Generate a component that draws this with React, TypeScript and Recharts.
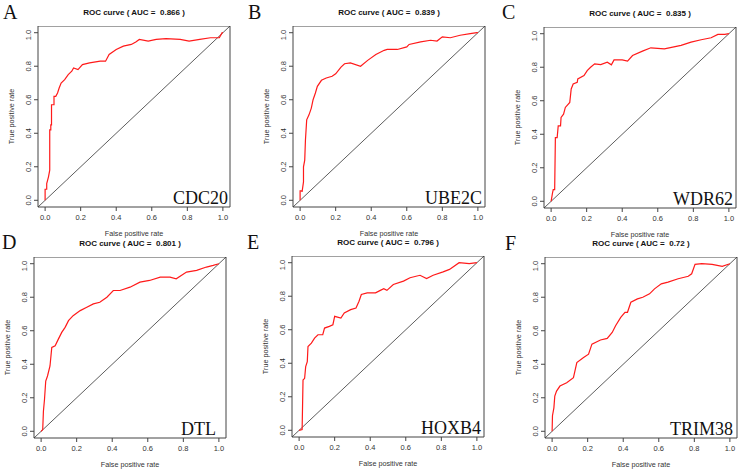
import { LineChart, Line, XAxis, YAxis, ReferenceLine, ReferenceArea } from 'recharts';

// ROC panels A-F

const panelLetters = ['A', 'B', 'C', 'D', 'E', 'F'];
const geneNames = ['CDC20', 'UBE2C', 'WDR62', 'DTL', 'HOXB4', 'TRIM38'];
const aucValues = ['0.866', '0.839', '0.835', '0.801', '0.796', '0.72'];
const tickValues = [0, 0.2, 0.4, 0.6, 0.8, 1];

const cdc20Fpr = [0, 0, 0.009, 0.009, 0.019, 0.026, 0.026, 0.032, 0.032, 0.036, 0.036, 0.05, 0.05, 0.06, 0.07, 0.079, 0.09, 0.11, 0.13, 0.15, 0.16, 0.185, 0.21, 0.25, 0.31, 0.34, 0.36, 0.4, 0.44, 0.485, 0.51, 0.53, 0.58, 0.625, 0.68, 0.76, 0.81, 0.87, 0.93, 0.98, 0.996, 1];
const cdc20Tpr = [0, 0.066, 0.066, 0.1, 0.14, 0.18, 0.42, 0.42, 0.45, 0.45, 0.57, 0.57, 0.62, 0.62, 0.64, 0.67, 0.7, 0.72, 0.75, 0.77, 0.79, 0.78, 0.81, 0.82, 0.83, 0.83, 0.87, 0.9, 0.92, 0.93, 0.945, 0.96, 0.95, 0.96, 0.965, 0.96, 0.95, 0.96, 0.97, 0.97, 1, 1];

const ube2cFpr = [0, 0, 0.011, 0.011, 0.019, 0.019, 0.026, 0.03, 0.037, 0.05, 0.063, 0.073, 0.086, 0.097, 0.12, 0.147, 0.18, 0.2, 0.23, 0.25, 0.283, 0.34, 0.38, 0.426, 0.473, 0.49, 0.547, 0.6, 0.613, 0.678, 0.734, 0.77, 0.8, 0.845, 0.9, 0.957, 0.994, 1];
const ube2cTpr = [0, 0.056, 0.056, 0.05, 0.11, 0.2, 0.24, 0.36, 0.48, 0.51, 0.55, 0.6, 0.64, 0.68, 0.716, 0.73, 0.74, 0.755, 0.795, 0.815, 0.82, 0.8, 0.835, 0.87, 0.895, 0.9, 0.9, 0.915, 0.93, 0.945, 0.955, 0.95, 0.975, 0.97, 0.985, 0.994, 1, 1];

const wdr62Fpr = [0, 0.008, 0.012, 0.02, 0.024, 0.034, 0.04, 0.053, 0.056, 0.07, 0.08, 0.105, 0.113, 0.124, 0.147, 0.15, 0.185, 0.203, 0.222, 0.245, 0.279, 0.316, 0.339, 0.354, 0.4, 0.43, 0.458, 0.514, 0.561, 0.637, 0.684, 0.731, 0.787, 0.844, 0.9, 0.938, 0.977, 1];
const wdr62Tpr = [0, 0.05, 0.07, 0.07, 0.38, 0.38, 0.45, 0.45, 0.5, 0.52, 0.56, 0.59, 0.67, 0.7, 0.71, 0.73, 0.75, 0.78, 0.8, 0.82, 0.816, 0.83, 0.814, 0.844, 0.844, 0.836, 0.87, 0.896, 0.916, 0.91, 0.92, 0.93, 0.95, 0.964, 0.976, 0.996, 0.996, 1];

const dtlFpr = [0, 0.009, 0.013, 0.019, 0.026, 0.036, 0.05, 0.06, 0.079, 0.097, 0.116, 0.135, 0.154, 0.18, 0.22, 0.257, 0.294, 0.33, 0.37, 0.406, 0.444, 0.5, 0.556, 0.61, 0.67, 0.725, 0.76, 0.818, 0.875, 0.93, 0.968, 1];
const dtlTpr = [0, 0.01, 0.12, 0.19, 0.3, 0.33, 0.39, 0.5, 0.51, 0.55, 0.59, 0.62, 0.66, 0.69, 0.72, 0.74, 0.76, 0.77, 0.8, 0.84, 0.84, 0.86, 0.89, 0.9, 0.92, 0.92, 0.91, 0.95, 0.96, 0.98, 0.99, 1];

const hoxb4Fpr = [0, 0.017, 0.022, 0.031, 0.037, 0.046, 0.05, 0.069, 0.087, 0.106, 0.133, 0.143, 0.17, 0.19, 0.2, 0.235, 0.254, 0.29, 0.32, 0.337, 0.35, 0.383, 0.43, 0.457, 0.476, 0.494, 0.53, 0.587, 0.624, 0.68, 0.717, 0.754, 0.81, 0.846, 0.9, 0.957, 1];
const hoxb4Tpr = [0, 0.004, 0.3, 0.31, 0.38, 0.41, 0.5, 0.52, 0.55, 0.57, 0.57, 0.61, 0.62, 0.63, 0.68, 0.67, 0.7, 0.72, 0.73, 0.77, 0.81, 0.82, 0.82, 0.835, 0.845, 0.835, 0.87, 0.89, 0.91, 0.925, 0.905, 0.925, 0.945, 0.96, 1, 0.994, 1];

const trim38Fpr = [0, 0.002, 0.01, 0.015, 0.025, 0.044, 0.082, 0.12, 0.139, 0.177, 0.205, 0.224, 0.272, 0.31, 0.338, 0.357, 0.386, 0.41, 0.424, 0.443, 0.48, 0.51, 0.548, 0.576, 0.614, 0.652, 0.709, 0.766, 0.785, 0.804, 0.842, 0.9, 0.957, 1];
const trim38Tpr = [0, 0.093, 0.14, 0.21, 0.24, 0.27, 0.29, 0.32, 0.41, 0.44, 0.46, 0.52, 0.545, 0.554, 0.59, 0.63, 0.68, 0.71, 0.71, 0.77, 0.79, 0.8, 0.82, 0.85, 0.88, 0.89, 0.91, 0.925, 0.94, 0.996, 1, 0.996, 0.984, 1];

const fprSets = [cdc20Fpr, ube2cFpr, wdr62Fpr, dtlFpr, hoxb4Fpr, trim38Fpr];
const tprSets = [cdc20Tpr, ube2cTpr, wdr62Tpr, dtlTpr, hoxb4Tpr, trim38Tpr];

// plot box positions on the page
const boxLeft = [38, 293, 544, 34, 292, 545];
const boxTop = [26, 26, 27, 257, 256, 257];
const letterPos = [[3, 2], [248, 2], [502, 2], [2, 232], [247, 232], [505, 233]];
const geneInset = [2, 3, 3, 10, 3, 4];

const BOX_W = 192;
const BOX_H = 181;
const AXIS_W = 40;
const AXIS_H = 40;
const DOMAIN: [number, number] = [-0.04, 1.04];

const sans = '"Liberation Sans", Arial, Helvetica, sans-serif';
const serif = '"Liberation Serif", "Times New Roman", serif';

const YTick = (props: any) => {
  const { x, y, payload } = props;
  const tx = x - 1;
  return (
    <text x={tx} y={y} transform={`rotate(-90 ${tx} ${y})`} textAnchor="middle"
      fontSize={7.5} fontFamily={sans} fill="#333">
      {Number(payload.value).toFixed(1)}
    </text>
  );
};

const RocPanel = ({ i }: { i: number }) => {
  const data = fprSets[i].map((f, k) => ({ fpr: f, tpr: tprSets[i][k] }));
  const left = boxLeft[i];
  const top = boxTop[i];
  return (
    <>
      <div style={{ position: 'absolute', left: left - AXIS_W, top }}>
        <LineChart width={AXIS_W + BOX_W + 4} height={BOX_H + AXIS_H} data={data}
          margin={{ top: 0, right: 4, bottom: 0, left: 0 }}>
          <XAxis dataKey="fpr" type="number" domain={DOMAIN} allowDataOverflow ticks={tickValues}
            tickFormatter={(v: number) => v.toFixed(1)} axisLine={false} tickSize={4} tickMargin={4}
            height={AXIS_H} stroke="#444" tick={{ fontSize: 7.5, fontFamily: sans, fill: '#333' }}
            label={{ value: 'False positive rate', position: 'insideBottom', offset: 11, fontSize: 7.2, fontFamily: sans, fill: '#333' }} />
          <YAxis type="number" domain={DOMAIN} allowDataOverflow ticks={tickValues} axisLine={false}
            tickSize={4} tickMargin={2} width={AXIS_W} stroke="#444" tick={<YTick />}
            label={{ value: 'True positive rate', angle: -90, position: 'insideLeft', offset: 13, fontSize: 7.2, fontFamily: sans, fill: '#333', style: { textAnchor: 'middle' } }} />
          <ReferenceArea x1={-0.04} x2={1.04} y1={-0.04} y2={1.04} fill="none" stroke="#444" strokeWidth={1} ifOverflow="visible" />
          <ReferenceLine segment={[{ x: -0.04, y: -0.04 }, { x: 1.04, y: 1.04 }]} stroke="#333" strokeWidth={0.8} ifOverflow="visible" />
          <Line type="linear" dataKey="tpr" stroke="#ff1a1a" strokeWidth={1.2} dot={false} isAnimationActive={false} />
        </LineChart>
      </div>
      <div style={{ position: 'absolute', left, top: top - 18, width: BOX_W, textAlign: 'center', fontFamily: sans, fontWeight: 'bold', fontSize: 8, lineHeight: '10px', color: '#111', whiteSpace: 'pre' }}>
        {`ROC curve ( AUC =  ${aucValues[i]} )`}
      </div>
      <div style={{ position: 'absolute', left: letterPos[i][0], top: letterPos[i][1], fontFamily: serif, fontSize: 20, lineHeight: '20px', color: '#111' }}>
        {panelLetters[i]}
      </div>
      <div style={{ position: 'absolute', left, top: top + BOX_H - 18, width: BOX_W - geneInset[i], textAlign: 'right', fontFamily: serif, fontSize: 18, lineHeight: '18px', color: '#111' }}>
        {geneNames[i]}
      </div>
    </>
  );
};

export default function App() {
  return (
    <div style={{ position: 'absolute', left: 0, top: 0, width: 740, height: 470, background: '#fff', overflow: 'hidden' }}>
      {panelLetters.map((_, i) => <RocPanel key={i} i={i} />)}
    </div>
  );
}
